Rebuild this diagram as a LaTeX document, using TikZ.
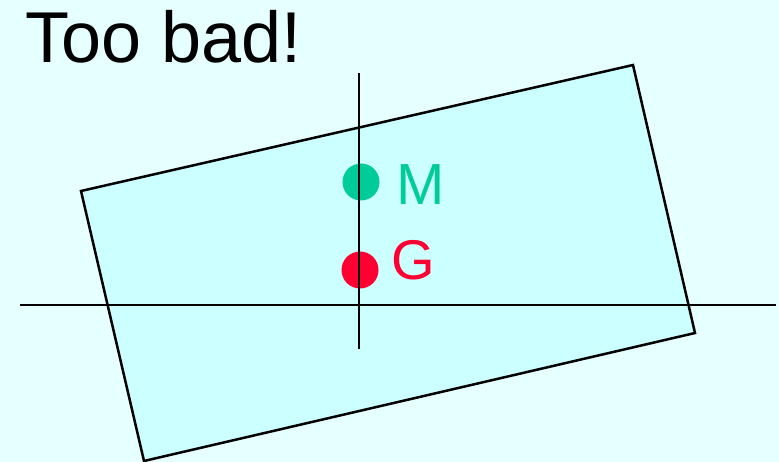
\documentclass[tikz,border=0pt]{standalone}
\usepackage{fontspec}
\setmainfont{Liberation Sans}
\definecolor{bg}{HTML}{E6FFFF}
\definecolor{boxfill}{HTML}{CCFFFF}
\definecolor{mgreen}{HTML}{00CC99}
\definecolor{gred}{HTML}{FF0033}
\begin{document}
\begin{tikzpicture}[x=1pt,y=-1pt,
  axis/.style={draw=black,line width=2.2pt},
  dot/.style={circle,inner sep=0pt,minimum size=37pt},
  lbl/.style={anchor=base west,inner sep=0pt}]
\fill[bg] (0,0) rectangle (779,462);
\useasboundingbox (0,0) rectangle (779,462);
\coordinate (c1) at (81,191);
\coordinate (c2) at (633,65);
\coordinate (c3) at (695,333);
\coordinate (c4) at (144,461);
\draw[fill=boxfill,line width=2.5pt,line join=miter] (c1) -- (c2) -- (c3) -- (c4) -- cycle;
\coordinate (hl) at (20,305);
\coordinate (hr) at (776,305);
\coordinate (vt) at (359,73);
\coordinate (vb) at (359,349);
\draw[axis] (hl) -- (hr);
\node[dot,fill=mgreen] (M) at (361,182) {};
\node[dot,fill=gred] (G) at (360,270) {};
\draw[axis] (vt) -- (vb);
\node[lbl,text=mgreen,font=\fontsize{58}{58}\selectfont] (Ml) at (396.5,205) {M};
\node[lbl,text=gred,font=\fontsize{56}{56}\selectfont] (Gl) at (391.5,280) {G};
\node[lbl,text=black,font=\fontsize{72}{72}\selectfont] (title) at (25.5,63) {Too bad!};
\end{tikzpicture}
\end{document}
